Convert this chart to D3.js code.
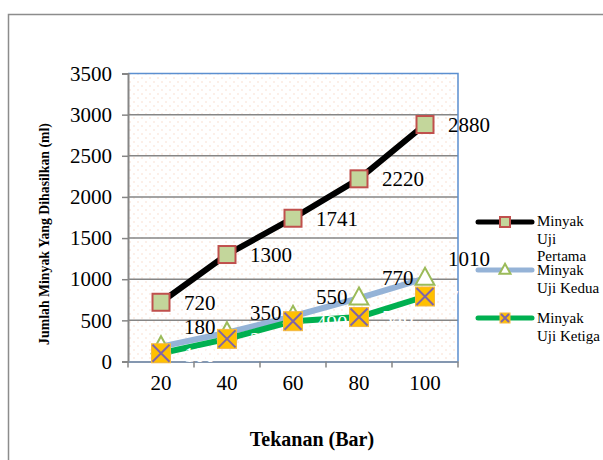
<!DOCTYPE html>
<html>
<head>
<meta charset="utf-8">
<script src="https://cdn.jsdelivr.net/npm/d3@7/dist/d3.min.js"></script>
<style>
  html, body { margin: 0; padding: 0; background: #fff; }
  svg { display: block; }
  svg text { font-family: "Liberation Serif", "Times New Roman", serif; }
</style>
</head>
<body>
<svg id="chart" width="603" height="460"></svg>
<script>
// Pressure levels (Bar) on the x axis
const categories = ["20", "40", "60", "80", "100"];
// Oil produced (ml) for each test run
const ujiPertama = [720, 1300, 1741, 2220, 2880];
const ujiKedua = [180, 350, 550, 770, 1010];
const ujiKetiga = [100, 275, 490, 540, 790];
const seriesNames = [["Minyak", "Uji", "Pertama"], ["Minyak", "Uji Kedua"], ["Minyak", "Uji Ketiga"]];
const yTicks = [0, 500, 1000, 1500, 2000, 2500, 3000, 3500];

const FONT = "Liberation Serif";
const svg = d3.select("#chart");
const plot = { left: 128, right: 458, top: 73.5, bottom: 361.5 };

// dotted fill for the plot area
const defs = svg.append("defs");
const pat = defs.append("pattern").attr("id", "dots")
  .attr("patternUnits", "userSpaceOnUse").attr("width", 8).attr("height", 8);
pat.append("rect").attr("width", 8).attr("height", 8).attr("fill", "#fff");
pat.append("circle").attr("cx", 2).attr("cy", 2).attr("r", 0.8).attr("fill", "#FADCCB");
pat.append("circle").attr("cx", 6).attr("cy", 6).attr("r", 0.8).attr("fill", "#FADCCB");

// chart frame
svg.append("rect").attr("x", 8.5).attr("y", 14.5).attr("width", 700).attr("height", 500)
  .attr("fill", "none").attr("stroke", "#8c8c8c").attr("stroke-width", 1.5);

const x = d3.scaleBand().domain(categories).range([plot.left, plot.right]);
const y = d3.scaleLinear().domain([0, 3500]).range([plot.bottom, plot.top]);
const cx = d => x(d) + x.bandwidth() / 2;

svg.append("rect").attr("x", plot.left).attr("y", plot.top)
  .attr("width", plot.right - plot.left).attr("height", plot.bottom - plot.top)
  .attr("fill", "url(#dots)");

// horizontal gridlines
svg.append("g").selectAll("line").data(yTicks.slice(1, -1)).join("line")
  .attr("x1", plot.left).attr("x2", plot.right)
  .attr("y1", d => y(d)).attr("y2", d => y(d))
  .attr("stroke", "#868686").attr("stroke-width", 1.5);

// plot border (top and right)
svg.append("path")
  .attr("d", `M${plot.left},${plot.top}H${plot.right}V${plot.bottom}`)
  .attr("fill", "none").attr("stroke", "#5B8FD0").attr("stroke-width", 1.5);

// y axis
const yAxis = svg.append("g").attr("transform", `translate(${plot.left},0)`)
  .call(d3.axisLeft(y).tickValues(yTicks).tickSize(6).tickPadding(10).tickFormat(d3.format("d")));
yAxis.attr("font-family", FONT);
yAxis.select(".domain").attr("stroke", "#868686").attr("stroke-width", 2);
yAxis.selectAll(".tick line").attr("stroke", "#868686").attr("stroke-width", 1.5);
yAxis.selectAll(".tick text").attr("font-family", FONT).attr("font-size", 21)
  .attr("fill", "#000");

// x axis
const xAxis = svg.append("g").attr("transform", `translate(0,${plot.bottom})`)
  .call(d3.axisBottom(x).tickSize(0).tickPadding(14));
xAxis.attr("font-family", FONT);
xAxis.select(".domain").attr("stroke", "#8497B0").attr("stroke-width", 2);
xAxis.selectAll(".tick text").attr("font-family", FONT).attr("font-size", 21)
  .attr("fill", "#000");
xAxis.selectAll(".bound").data(d3.range(categories.length + 1)).join("line")
  .attr("class", "bound")
  .attr("x1", i => plot.left + i * x.bandwidth()).attr("x2", i => plot.left + i * x.bandwidth())
  .attr("y1", 0).attr("y2", 6).attr("stroke", "#868686").attr("stroke-width", 1.5);

// axis titles
svg.append("text").attr("x", 312).attr("y", 446).attr("text-anchor", "middle")
  .attr("font-family", FONT).attr("font-weight", "bold").attr("font-size", 20).text("Tekanan (Bar)");
svg.append("text").attr("transform", "translate(49,234) rotate(-90)").attr("text-anchor", "middle")
  .attr("font-family", FONT).attr("font-weight", "bold").attr("font-size", 13.8)
  .text("Jumlah Minyak Yang Dihasilkan (ml)");

const line = d3.line().x((d, i) => cx(categories[i])).y(d => y(d));

// marker painters
function square(g, s, fill, stroke) {
  g.append("rect").attr("x", -s / 2).attr("y", -s / 2).attr("width", s).attr("height", s)
    .attr("fill", fill).attr("stroke", stroke).attr("stroke-width", 2);
}
function triangle(g, s) {
  g.append("path").attr("d", `M0,${-s * 0.62}L${s * 0.55},${s * 0.38}L${-s * 0.55},${s * 0.38}Z`)
    .attr("fill", "#fff").attr("stroke", "#9BBB59").attr("stroke-width", 2);
}
function crossSquare(g, s) {
  g.append("rect").attr("x", -s / 2).attr("y", -s / 2).attr("width", s).attr("height", s)
    .attr("fill", "#FFC000").attr("stroke", "#F5B840").attr("stroke-width", 1);
  const h = s / 2 - 1;
  g.append("path").attr("d", `M${-h},${-h}L${h},${h}M${h},${-h}L${-h},${h}`)
    .attr("stroke", "#7F64A8").attr("stroke-width", 2);
}

const series = [
  { values: ujiPertama, color: "#000000", marker: (g, s) => square(g, s, "#C3D69B", "#C0504D"), size: 17, labelColor: "#000", dy: 0 },
  { values: ujiKedua, color: "#95B3D7", marker: (g, s) => triangle(g, s), size: 17, labelColor: "#000", dy: -20 },
  { values: ujiKetiga, color: "#00B050", marker: (g, s) => crossSquare(g, s), size: 19, labelColor: "#fff", dy: 1 }
];

series.forEach(s => {
  svg.append("path").datum(s.values).attr("d", line)
    .attr("fill", "none").attr("stroke", s.color).attr("stroke-width", 6)
    .attr("stroke-linejoin", "round");
});
series.forEach(s => {
  s.values.forEach((v, i) => {
    const g = svg.append("g").attr("transform", `translate(${cx(categories[i])},${y(v)})`);
    s.marker(g, s.size);
  });
});
// value labels
series.forEach(s => {
  svg.append("g").selectAll("text").data(s.values).join("text")
    .attr("x", (d, i) => cx(categories[i]) + 23)
    .attr("y", d => y(d) + s.dy)
    .attr("dy", "0.35em")
    .attr("font-family", FONT).attr("font-size", 21).attr("fill", s.labelColor)
    .text(d => d);
});

// legend
const legendY = [222, 270, 318];
series.forEach((s, k) => {
  const g = svg.append("g").attr("transform", `translate(0,${legendY[k]})`);
  g.append("line").attr("x1", 478).attr("x2", 532).attr("y1", 0).attr("y2", 0)
    .attr("stroke", s.color).attr("stroke-width", 5).attr("stroke-linecap", "round");
  const m = g.append("g").attr("transform", "translate(505,0)");
  s.marker(m, 10);
  const t = g.append("text").attr("x", 537).attr("y", k === 0 ? 4 : 5)
    .attr("font-family", FONT).attr("font-size", 15);
  seriesNames[k].forEach((w, j) => {
    t.append("tspan").attr("x", 537).attr("dy", j === 0 ? 0 : 17.5).text(w);
  });
});
</script>
</body>
</html>
